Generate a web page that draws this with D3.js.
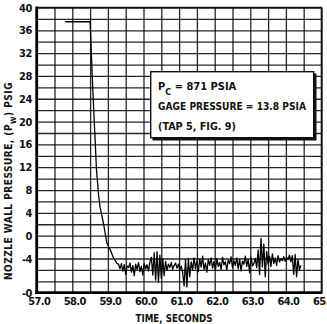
<!DOCTYPE html>
<html>
<head>
<meta charset="utf-8">
<script src="https://cdn.jsdelivr.net/npm/d3@7"></script>
<style>
  body { margin:0; background:#fff; }
  svg { display:block; }
  text { font-family:"DejaVu Sans Condensed","Liberation Sans Narrow",sans-serif; font-weight:bold; fill:#111; }
</style>
</head>
<body>
<svg></svg>
<script>

// tick values and their printed labels (bottom label prints as "-0" on the original)
var yTicks = [40,36,32,28,24,20,16,12,8,4,0,-4,-10];
var yTickLabels = ["40","36","32","28","24","20","16","12","8","4","0","-4","-0"];
var xTicks = [57,58,59,60,61,62,63,64,65];
var xTickLabels = ["57.0","58.0","59.0","60.0","61.0","62.0","63.0","64.0","65.0"];

// held pressure, then the drop
var traceHead = [
  [57.8,37.5],[58.5,37.5],[58.58,25],[58.68,11.5],[58.74,7],[58.78,5],
  [58.88,2],[58.97,-1.3],[59.06,-2.4],[59.15,-3.8],[59.26,-4.9]
];

// noisy tail
var traceTail = [
  [59.30,-5.0],[59.34,-5.8],[59.38,-4.9],[59.42,-6.2],[59.46,-5.1],[59.50,-6.8],[59.54,-5.3],
  [59.58,-5.6],[59.62,-4.8],[59.66,-6.4],[59.70,-5.2],[59.74,-7.0],[59.78,-5.0],[59.82,-5.9],[59.86,-4.7],
  [59.90,-6.3],[59.94,-5.4],[59.98,-6.9],[60.02,-4.9],[60.06,-5.8],[60.10,-5.1],[60.14,-6.2],[60.18,-4.6],
  [60.22,-3.8],[60.26,-6.9],[60.30,-3.0],[60.34,-7.8],[60.38,-2.8],[60.42,-8.2],[60.46,-3.4],[60.50,-7.5],
  [60.54,-4.0],[60.58,-7.0],[60.62,-4.5],[60.66,-6.1],
  [60.70,-5.0],[60.74,-5.6],[60.78,-4.7],[60.82,-5.9],[60.86,-5.2],[60.90,-4.8],[60.94,-5.7],[60.98,-5.0],
  [61.02,-6.0],[61.06,-5.3],
  [61.10,-6.5],[61.14,-8.8],[61.18,-4.2],[61.22,-9.0],[61.26,-4.0],[61.30,-7.2],
  [61.34,-4.6],[61.38,-6.0],[61.42,-3.9],[61.46,-5.8],[61.50,-4.4],[61.54,-6.3],[61.58,-4.1],[61.62,-5.5],
  [61.66,-3.6],[61.70,-5.9],[61.74,-4.8],[61.78,-6.4],[61.82,-4.2],[61.86,-5.2],[61.90,-3.9],[61.94,-5.7],
  [61.98,-4.5],[62.02,-6.1],[62.06,-4.0],[62.10,-5.4],[62.14,-4.7],[62.18,-5.9],[62.22,-3.8],[62.26,-5.1],
  [62.30,-4.6],[62.34,-6.0],[62.38,-4.3],[62.42,-4.9],[62.46,-3.7],[62.50,-5.6],[62.54,-4.4],[62.58,-5.2],
  [62.62,-3.9],[62.66,-5.8],[62.70,-4.1],[62.74,-6.2],[62.78,-4.5],[62.82,-5.0],[62.86,-3.6],[62.90,-5.4],
  [62.94,-4.2],[62.98,-6.5],[63.02,-3.8],[63.06,-5.3],[63.10,-4.9],[63.14,-4.0],[63.18,-5.6],
  [63.22,-2.5],[63.26,-6.8],[63.30,-0.5],[63.34,-5.5],[63.38,-1.5],[63.42,-7.2],[63.46,-2.8],[63.50,-5.0],
  [63.54,-3.6],[63.58,-5.4],[63.62,-3.2],[63.66,-4.9],[63.70,-3.9],[63.74,-5.2],[63.78,-3.5],[63.82,-4.6],
  [63.86,-4.0],[63.90,-4.4],[63.94,-3.7],[63.98,-4.5],[64.02,-3.8],[64.06,-4.2],[64.10,-3.4],[64.14,-4.6],
  [64.18,-3.5],
  [64.22,-6.8],[64.26,-3.3],[64.30,-7.2],[64.34,-4.2],[64.38,-6.0],[64.42,-5.2]
];

var legendLines = ["GAGE PRESSURE = 13.8 PSIA", "(TAP 5, FIG. 9)"];
var legendWidths = [148, 78];

var screen = {width:327, height:324};
var plotBox = {left:36.7, right:321.5, top:7.5, bottom:292.7};

var svg = d3.select("svg").attr("width",screen.width).attr("height",screen.height);

var xScale = d3.scaleLinear().domain([57,65]).range([plotBox.left,plotBox.right]);
var yScale = d3.scaleLinear().domain([-10,40]).range([plotBox.bottom,plotBox.top]);

// grid: every 0.5 s and every 2 psi
var xGrid = d3.axisBottom(xScale)
  .tickValues(d3.range(57,65.01,0.5))
  .tickSize(-(plotBox.bottom-plotBox.top))
  .tickFormat("");
svg.append("g")
  .attr("transform","translate(0,"+plotBox.bottom+")")
  .call(xGrid)
  .call(function(g){ g.select(".domain").remove(); })
  .selectAll("line").attr("stroke","#000").attr("stroke-width",1.3).attr("stroke-opacity",0.85);

var yGrid = d3.axisLeft(yScale)
  .tickValues(d3.range(-10,40.01,2))
  .tickSize(-(plotBox.right-plotBox.left))
  .tickFormat("");
svg.append("g")
  .attr("transform","translate("+plotBox.left+",0)")
  .call(yGrid)
  .call(function(g){ g.select(".domain").remove(); })
  .selectAll("line").attr("stroke","#000").attr("stroke-width",1.3).attr("stroke-opacity",0.85);

// frame: top and right thin, left and bottom heavy
svg.append("line").attr("x1",plotBox.left).attr("x2",plotBox.right).attr("y1",plotBox.top).attr("y2",plotBox.top)
  .attr("stroke","#111").attr("stroke-width",1.6);
svg.append("line").attr("x1",plotBox.right).attr("x2",plotBox.right).attr("y1",plotBox.top).attr("y2",plotBox.bottom)
  .attr("stroke","#111").attr("stroke-width",1.6);
svg.append("line").attr("x1",plotBox.left).attr("x2",plotBox.left).attr("y1",plotBox.top-1).attr("y2",plotBox.bottom+1.2)
  .attr("stroke","#000").attr("stroke-width",2.8);
svg.append("line").attr("x1",plotBox.left-1.4).attr("x2",plotBox.right+0.8).attr("y1",plotBox.bottom).attr("y2",plotBox.bottom)
  .attr("stroke","#000").attr("stroke-width",2.8);

// tick labels
var yAxis = d3.axisLeft(yScale)
  .tickValues(yTicks)
  .tickSize(0)
  .tickPadding(5)
  .tickFormat(function(d,i){ return yTickLabels[i]; });
svg.append("g")
  .attr("transform","translate("+plotBox.left+",0)")
  .call(yAxis)
  .call(function(g){ g.select(".domain").remove(); })
  .selectAll("text")
  .style("font-size","11px")
  .style("letter-spacing","-0.6px")
  .attr("fill","#111");

var xAxis = d3.axisBottom(xScale)
  .tickValues(xTicks)
  .tickSize(0)
  .tickPadding(5)
  .tickFormat(function(d,i){ return xTickLabels[i]; });
svg.append("g")
  .attr("transform","translate(0,"+plotBox.bottom+")")
  .call(xAxis)
  .call(function(g){ g.select(".domain").remove(); })
  .selectAll("text")
  .attr("dx",2)
  .style("font-size","11px")
  .style("letter-spacing","-0.6px")
  .attr("fill","#111");

// axis titles
svg.append("text")
  .attr("x",174).attr("y",322)
  .attr("text-anchor","middle")
  .attr("textLength",77).attr("lengthAdjust","spacingAndGlyphs")
  .style("font-size","10.5px")
  .text("TIME,  SECONDS");

var yTitle = svg.append("text")
  .attr("transform","translate(12,181) rotate(-90)")
  .attr("text-anchor","middle")
  .style("font-size","10px")
  .style("letter-spacing","0.5px");
yTitle.append("tspan").text("NOZZLE  WALL  PRESSURE,  (P");
yTitle.append("tspan").attr("dy",3.5).style("font-size","7.5px").text("W");
yTitle.append("tspan").attr("dy",-3.5).text(")  PSIG");

// trace
var trace = traceHead.concat(traceTail);
var line = d3.line()
  .x(function(d){ return xScale(d[0]); })
  .y(function(d){ return yScale(d[1]); });
svg.append("path")
  .datum(trace)
  .attr("d",line)
  .attr("fill","none")
  .attr("stroke","#000")
  .attr("stroke-width",1.3)
  .attr("stroke-linejoin","round");

// note box
var note = svg.append("g");
note.append("rect").attr("x",152.5).attr("y",73.5).attr("width",164).attr("height",67)
  .attr("fill","#111");
note.append("rect").attr("x",150.7).attr("y",71.7).attr("width",163).attr("height",66)
  .attr("fill","#fff").attr("stroke","#111").attr("stroke-width",1.4);

var l1 = note.append("text").attr("x",158).attr("y",90).style("font-size","11px");
l1.append("tspan").text("P");
l1.append("tspan").attr("dy",5).style("font-size","9px").text("C");
l1.append("tspan").attr("dy",-5).text("  =  871 PSIA");

note.selectAll("text.leg")
  .data(legendLines)
  .enter()
  .append("text")
  .attr("class","leg")
  .attr("x",158)
  .attr("y",function(d,i){ return 109.5 + i*20; })
  .attr("textLength",function(d,i){ return legendWidths[i]; })
  .attr("lengthAdjust","spacingAndGlyphs")
  .style("font-size","11px")
  .text(function(d){ return d; });

</script>
</body>
</html>
